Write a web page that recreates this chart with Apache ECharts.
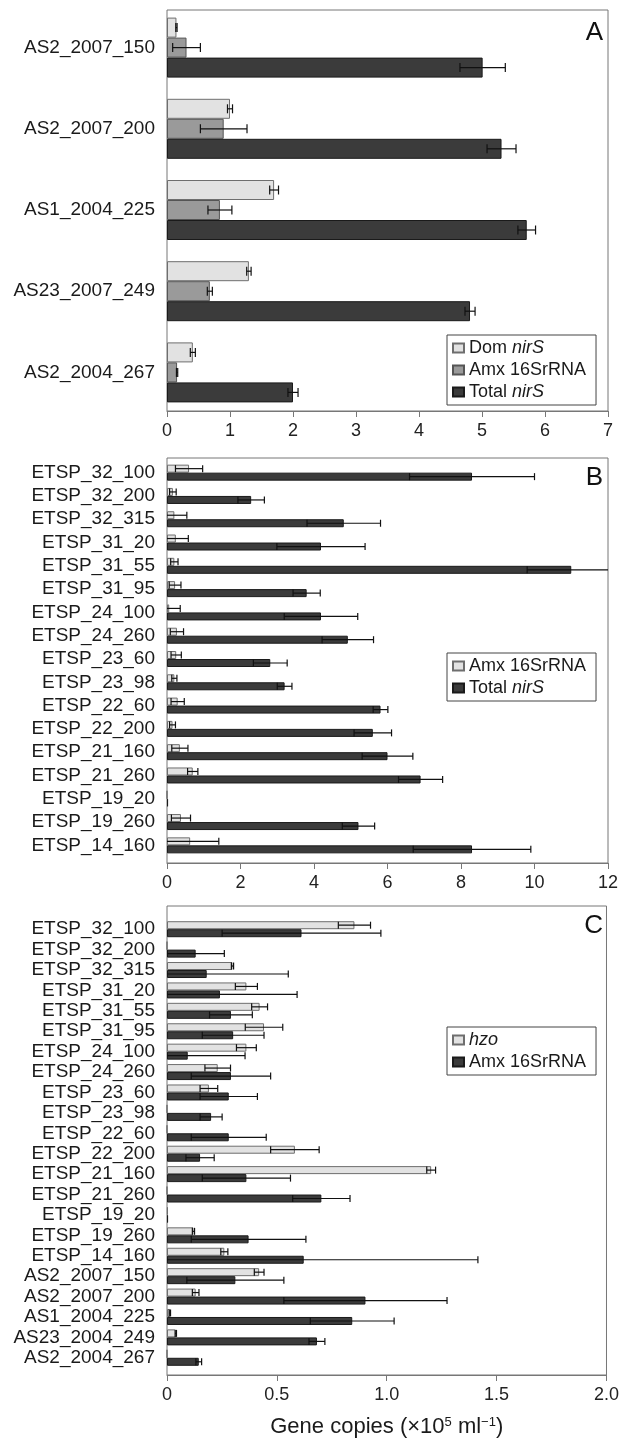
<!DOCTYPE html>
<html>
<head>
<meta charset="utf-8">
<script src="https://cdn.jsdelivr.net/npm/echarts@6/dist/echarts.min.js"></script>
<style>
  html, body { margin: 0; background: #fff; }
  #chart { width: 622px; height: 1439px; }
</style>
</head>
<body>
<div id="chart"></div>
<script>
// ---- panel A ----
const catsA = ['AS2_2007_150', 'AS2_2007_200', 'AS1_2004_225', 'AS23_2007_249', 'AS2_2004_267'];
const domNirA = [0.15, 1.0, 1.7, 1.3, 0.41];
const domNirAErr = [0.01, 0.04, 0.07, 0.035, 0.04];
const amxA = [0.31, 0.9, 0.84, 0.68, 0.16];
const amxAErr = [0.22, 0.37, 0.19, 0.04, 0.01];
const totNirA = [5.01, 5.31, 5.71, 4.81, 2.0];
const totNirAErr = [0.36, 0.23, 0.14, 0.08, 0.08];

// ---- panel B ----
const catsB = ['ETSP_32_100', 'ETSP_32_200', 'ETSP_32_315', 'ETSP_31_20', 'ETSP_31_55', 'ETSP_31_95',
  'ETSP_24_100', 'ETSP_24_260', 'ETSP_23_60', 'ETSP_23_98', 'ETSP_22_60', 'ETSP_22_200',
  'ETSP_21_160', 'ETSP_21_260', 'ETSP_19_20', 'ETSP_19_260', 'ETSP_14_160'];
const amxB = [0.6, 0.16, 0.2, 0.24, 0.2, 0.22, 0.06, 0.27, 0.25, 0.2, 0.29, 0.15, 0.35, 0.7, 0, 0.38, 0.63];
const amxBErr = [0.37, 0.09, 0.34, 0.34, 0.1, 0.16, 0.3, 0.18, 0.14, 0.07, 0.18, 0.08, 0.22, 0.14, 0, 0.26, 0.78];
const totNirB = [8.3, 2.29, 4.81, 4.19, 11.0, 3.8, 4.19, 4.92, 2.81, 3.2, 5.81, 5.6, 6.0, 6.9, 0.03, 5.21, 8.3];
const totNirBErr = [1.7, 0.36, 1.0, 1.2, 1.2, 0.37, 1.0, 0.7, 0.46, 0.2, 0.2, 0.51, 0.69, 0.6, 0, 0.44, 1.6];

// ---- panel C ----
const catsC = catsB.concat(['AS2_2007_150', 'AS2_2007_200', 'AS1_2004_225', 'AS23_2004_249', 'AS2_2004_267']);
const hzoC = [0.85, 0, 0.297, 0.36, 0.42, 0.44, 0.36, 0.23, 0.19, 0, 0, 0.58, 1.198, 0, 0.004, 0.12, 0.26, 0.418, 0.13, 0.013, 0.04, 0];
const hzoCErr = [0.073, 0, 0.005, 0.05, 0.036, 0.085, 0.045, 0.058, 0.04, 0, 0, 0.11, 0.02, 0, 0, 0.005, 0.016, 0.022, 0.015, 0.003, 0.003, 0];
const amxC = [0.61, 0.13, 0.18, 0.24, 0.29, 0.3, 0.094, 0.29, 0.28, 0.2, 0.28, 0.15, 0.36, 0.7, 0.005, 0.37, 0.62, 0.31, 0.9, 0.84, 0.68, 0.144];
const amxCErr = [0.36, 0.13, 0.37, 0.35, 0.097, 0.14, 0.26, 0.18, 0.13, 0.05, 0.17, 0.064, 0.2, 0.13, 0, 0.26, 0.79, 0.22, 0.37, 0.19, 0.036, 0.013];

const FONT = "'Liberation Sans', Arial, sans-serif";
const LIGHT = { color: '#e2e2e2', borderColor: '#6e6e6e', borderWidth: 1 };
const MID = { color: '#9a9a9a', borderColor: '#555', borderWidth: 1 };
const DARK = { color: '#3b3b3b', borderColor: '#1a1a1a', borderWidth: 1 };

const legendText = {
  A_dom: '{t|Dom }{i|nirS}', A_amx: '{t|Amx 16SrRNA}', A_tot: '{t|Total }{i|nirS}',
  B_amx: '{t|Amx 16SrRNA}', B_tot: '{t|Total }{i|nirS}',
  C_hzo: '{i|hzo}', C_amx: '{t|Amx 16SrRNA}'
};

const chart = echarts.init(document.getElementById('chart'));

// outer boxes (with x axis) and inner grids (bars, category labels)
const boxes = [{ top: 10, height: 401 }, { top: 458, height: 405 }, { top: 906, height: 471 }];
const inner = [{ top: 7, height: 406 }, { top: 461, height: 396 }, { top: 919, height: 449 }];
const maxes = [7, 12, 2];
const steps = [1, 2, 0.5];
const cats = [catsA, catsB, catsC];

const grids = [], xAxes = [], yAxes = [];
for (let p = 0; p < 3; p++) {
  grids.push({ left: 167, width: 441, top: boxes[p].top, height: boxes[p].height,
    show: true, borderColor: '#777', borderWidth: 1 });
  grids.push({ left: 167, width: 441, top: inner[p].top, height: inner[p].height });
  xAxes.push({
    gridIndex: 2 * p, type: 'value', min: 0, max: maxes[p], interval: steps[p],
    axisLine: { show: true, lineStyle: { color: '#777' } },
    axisTick: { show: true, length: 6, lineStyle: { color: '#777' } },
    splitLine: { show: false },
    axisLabel: { fontSize: 18, color: '#222', margin: 11, fontFamily: FONT,
      formatter: v => (p === 2 && v !== 0) ? v.toFixed(1) : String(v) }
  });
  xAxes.push({ gridIndex: 2 * p + 1, type: 'value', min: 0, max: maxes[p], show: false });
  yAxes.push({ gridIndex: 2 * p, type: 'value', show: false });
  yAxes.push({
    gridIndex: 2 * p + 1, type: 'category', data: cats[p], inverse: true,
    axisLine: { show: false }, axisTick: { show: false },
    axisLabel: { interval: 0, fontSize: 19, color: '#1a1a1a', margin: 12, fontFamily: FONT }
  });
}

xAxes[4].name = '{t|Gene copies (×10}{s|5}{t| ml}{s|−1}{t|)}';
xAxes[4].nameLocation = 'middle';
xAxes[4].nameGap = 41;
xAxes[4].nameTextStyle = {
  rich: {
    t: { fontSize: 22, color: '#1a1a1a', fontFamily: FONT },
    s: { fontSize: 13, color: '#1a1a1a', fontFamily: FONT, verticalAlign: 'top' }
  }
};

function bar(name, ax, data, style, width) {
  return { name: name, type: 'bar', xAxisIndex: ax, yAxisIndex: ax, data: data,
    barWidth: width, barGap: '0%', itemStyle: style, z: 2 };
}

function errBars(ax, values, errs, offset, cap) {
  return {
    type: 'custom', xAxisIndex: ax, yAxisIndex: ax, clip: true, z: 5,
    encode: { x: 0, y: 2 },
    data: values.map((v, i) => [v, errs[i], i]),
    renderItem: function (params, api) {
      const v = api.value(0), e = api.value(1), i = api.value(2);
      if (!e) return;
      const y = api.coord([v, i])[1] + offset;
      const xl = api.coord([v - e, i])[0];
      const xr = api.coord([v + e, i])[0];
      const st = { stroke: '#111', lineWidth: 1.2 };
      return { type: 'group', children: [
        { type: 'line', shape: { x1: xl, y1: y, x2: xr, y2: y }, style: st },
        { type: 'line', shape: { x1: xl, y1: y - cap / 2, x2: xl, y2: y + cap / 2 }, style: st },
        { type: 'line', shape: { x1: xr, y1: y - cap / 2, x2: xr, y2: y + cap / 2 }, style: st }
      ] };
    }
  };
}

const series = [
  bar('A_dom', 1, domNirA, LIGHT, 20), bar('A_amx', 1, amxA, MID, 20), bar('A_tot', 1, totNirA, DARK, 20),
  errBars(1, domNirA, domNirAErr, -20, 9), errBars(1, amxA, amxAErr, 0, 9), errBars(1, totNirA, totNirAErr, 20, 9),
  bar('B_amx', 3, amxB, LIGHT, 8), bar('B_tot', 3, totNirB, DARK, 8),
  errBars(3, amxB, amxBErr, -4, 7), errBars(3, totNirB, totNirBErr, 4, 7),
  bar('C_hzo', 5, hzoC, LIGHT, 8), bar('C_amx', 5, amxC, DARK, 8),
  errBars(5, hzoC, hzoCErr, -4, 7), errBars(5, amxC, amxCErr, 4, 7)
];

function legend(names, top) {
  return {
    data: names, orient: 'vertical', left: 447, top: top, icon: 'rect',
    itemWidth: 11, itemHeight: 9, itemGap: 4, selectedMode: false,
    padding: [4, 10, 4, 5], borderColor: '#444', borderWidth: 1, backgroundColor: '#fff',
    formatter: n => legendText[n],
    textStyle: { fontSize: 18, color: '#1a1a1a', fontFamily: FONT,
      rich: {
        t: { fontSize: 18, color: '#1a1a1a', fontFamily: FONT },
        i: { fontSize: 18, color: '#1a1a1a', fontFamily: FONT, fontStyle: 'italic' }
      } }
  };
}

const letters = [['A', 20], ['B', 465], ['C', 913]].map(d => ({
  type: 'text', right: 19, top: d[1],
  style: { text: d[0], fontSize: 26, fontFamily: FONT, fill: '#111' }
}));

chart.setOption({
  animation: false,
  textStyle: { fontFamily: FONT },
  grid: grids,
  xAxis: xAxes,
  yAxis: yAxes,
  legend: [legend(['A_dom', 'A_amx', 'A_tot'], 335), legend(['B_amx', 'B_tot'], 653), legend(['C_hzo', 'C_amx'], 1027)],
  graphic: letters,
  series: series
});
</script>
</body>
</html>
